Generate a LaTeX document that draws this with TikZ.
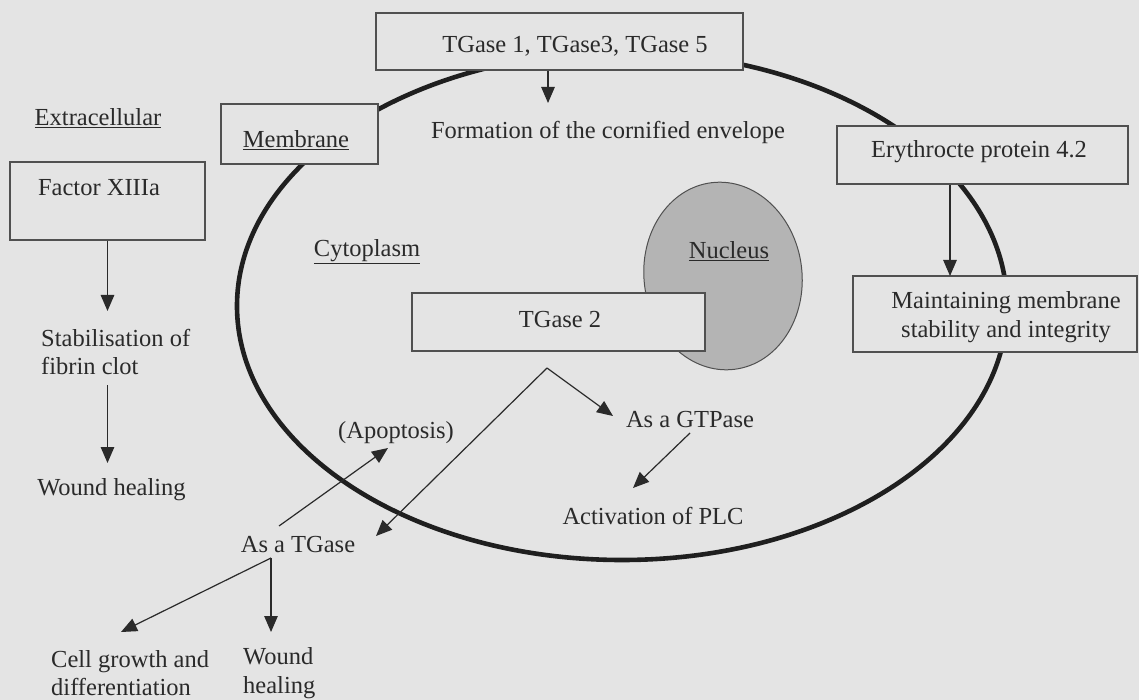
\documentclass[tikz,border=0pt]{standalone}
\usepackage{fontspec}
\setmainfont{Liberation Serif}
\usetikzlibrary{arrows.meta}
\definecolor{paper}{HTML}{E4E4E4}
\definecolor{ink}{HTML}{2A2A2A}
\definecolor{rim}{HTML}{505050}
\definecolor{nucfill}{HTML}{B4B4B4}

\begin{document}
\begin{tikzpicture}[x=1pt,y=-1pt,
  every node/.style={font=\fontsize{24.5}{28.5}\selectfont, text=ink, inner sep=0pt},
  box/.style={draw=rim, line width=1.1pt, fill=paper},
  arr/.style={draw=ink, line width=1.2pt, -{Triangle[length=16pt,width=13.5pt]}},
  membrane/.style={draw=black!88, line width=4.6pt},
  nucleus/.style={draw=rim, line width=1pt, fill=nucfill}]

% page
\fill[paper] (0,0) rectangle (1139,700);
\useasboundingbox (0,0) rectangle (1139,700);

% cell outline and nucleus
\draw[membrane] (622,306) ellipse [x radius=385pt, y radius=254pt];
\draw[nucleus] (723,276) ellipse [x radius=79pt, y radius=94pt, rotate=7];

% boxes
\node[box, minimum width=367pt, minimum height=57pt] (t1box) at (559.5,41.5) {};
\node[box, minimum width=157pt, minimum height=60pt] (membox) at (299.5,134) {};
\node[box, minimum width=195pt, minimum height=78pt] (fxbox) at (107.5,201) {};
\node[box, minimum width=291pt, minimum height=58pt] (erybox) at (982.5,155) {};
\node[box, minimum width=284pt, minimum height=76pt] (mntbox) at (995,314) {};
\node[box, minimum width=293pt, minimum height=58pt] (t2box) at (558.5,322) {};

% texts
\node (t1) at (575,46) {TGase 1, TGase3, TGase 5};
\node (form) at (608,132) {Formation of the cornified envelope};
\node (extra) at (98,118) {\underline{Extracellular}};
\node (mem) at (296,140) {\underline{Membrane}};
\node (fx) at (99,188) {Factor XIIIa};
\node (ery) at (979,152) {Erythrocte protein 4.2};
\node[align=center] (mnt) at (1006,317) {Maintaining membrane\\stability and integrity};
\node (cyto) at (367,252) {\underline{Cytoplasm}};
\node (nuc) at (729,251) {\underline{Nucleus}};
\node (t2) at (560,320) {TGase 2};
\node[align=left, anchor=west] (stab) at (41,352) {Stabilisation of\\fibrin clot};
\node (woundl) at (111.5,490) {Wound healing};
\node (apop) at (396,433) {(Apoptosis)};
\node (gtp) at (690,420) {As a GTPase};
\node (plc) at (653,516) {Activation of PLC};
\node (tg) at (298,545) {As a TGase};
\node[align=left, anchor=west] (cell) at (51,673) {Cell growth and\\differentiation};
\node[align=left, anchor=west] (woundr) at (243,673) {Wound\\healing};

% connector end points
\coordinate (formtip) at (548,103);
\coordinate (fxtip) at (107.5,311);
\coordinate (stabout) at (107.5,385);
\coordinate (woundtip) at (107.5,463);
\coordinate (erytip) at (950,276);
\coordinate (apex) at (547,368);
\coordinate (gtptip) at (613,416);
\coordinate (tgtip) at (376,536);
\coordinate (gtpout) at (690,433);
\coordinate (plctip) at (633,488);
\coordinate (tgup) at (279,526);
\coordinate (apoptip) at (388,448);
\coordinate (split) at (271,558);
\coordinate (celltip) at (121,632);
\coordinate (woundrtip) at (271,632);

% connectors
\draw[arr] (t1box.south -| formtip) -- (formtip);
\draw[arr] (fxbox.south) -- (fxtip);
\draw[arr] (stabout) -- (woundtip);
\draw[arr] (erybox.south -| erytip) -- (erytip);
\draw[arr] (apex) -- (gtptip);
\draw[arr] (apex) -- (tgtip);
\draw[arr] (gtpout) -- (plctip);
\draw[arr] (tgup) -- (apoptip);
\draw[arr] (split) -- (celltip);
\draw[arr] (split) -- (woundrtip);
\end{tikzpicture}
\end{document}
